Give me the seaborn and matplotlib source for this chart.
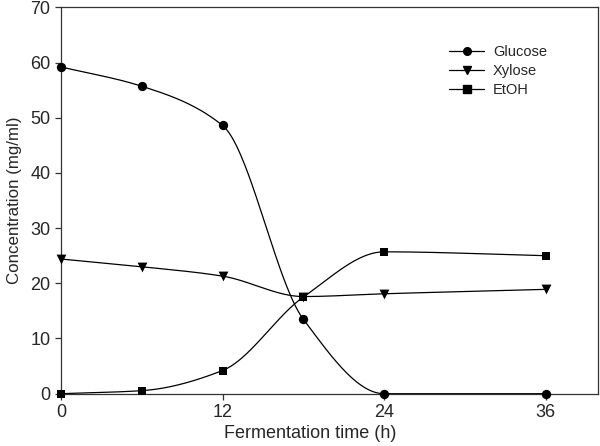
import numpy as np
import pandas as pd
import matplotlib
matplotlib.use("Agg")
import matplotlib.pyplot as plt
from matplotlib.lines import Line2D
import seaborn as sns

time_h = [0, 6, 12, 18, 24, 36]
glucose = [59.2, 55.7, 48.6, 13.5, 0.0, 0.0]
xylose = [24.4, 23.0, 21.3, 17.6, 18.1, 18.9]
etoh = [0.0, 0.55, 4.2, 17.5, 25.7, 25.0]
series_names = ["Glucose", "Xylose", "EtOH"]
x_ticks = [0, 12, 24, 36]
y_ticks = [0, 10, 20, 30, 40, 50, 60, 70]


def pchip(x, y, xs):
    x = np.asarray(x, float); y = np.asarray(y, float)
    h = np.diff(x); d = np.diff(y) / h
    n = len(x); m = np.zeros(n)
    for k in range(1, n - 1):
        if d[k - 1] * d[k] > 0:
            w1 = 2 * h[k] + h[k - 1]; w2 = h[k] + 2 * h[k - 1]
            m[k] = (w1 + w2) / (w1 / d[k - 1] + w2 / d[k])
    m[0] = d[0]; m[-1] = d[-1]
    out = np.empty_like(xs)
    for i, xv in enumerate(xs):
        k = min(np.searchsorted(x, xv, side="right") - 1, n - 2)
        k = max(k, 0)
        t = (xv - x[k]) / h[k]
        h00 = 2*t**3 - 3*t**2 + 1; h10 = t**3 - 2*t**2 + t
        h01 = -2*t**3 + 3*t**2; h11 = t**3 - t**2
        out[i] = h00*y[k] + h10*h[k]*m[k] + h01*y[k+1] + h11*h[k]*m[k+1]
    return out


sns.set_style("ticks")
plt.rcParams["font.family"] = ["Liberation Sans", "DejaVu Sans"]

fig = plt.figure(figsize=(6.0, 4.46), dpi=100)
ax = fig.add_axes([0.1017, 0.1173, 0.895, 0.8663])

xs = np.linspace(0, 36, 400)
markers = ["o", "v", "s"]
msizes = [45, 50, 40]
handles = []
for name, vals, mk, ms in zip(series_names, [glucose, xylose, etoh], markers, msizes):
    curve = pd.DataFrame({"t": xs, "c": pchip(time_h, vals, xs)})
    sns.lineplot(data=curve, x="t", y="c", ax=ax, color="black", lw=0.9, clip_on=True)
    pts = pd.DataFrame({"t": time_h, "c": vals})
    sns.scatterplot(data=pts, x="t", y="c", ax=ax, marker=mk, s=ms, color="black",
                    edgecolor="black", linewidth=0, zorder=5, clip_on=False)
    handles.append(Line2D([0], [0], color="black", lw=0.9, marker=mk,
                          markersize=5.5, label=name))

ax.set_xlim(0, 39.9)
ax.set_ylim(0, 70)
ax.set_xticks(x_ticks)
ax.set_yticks(y_ticks)
ax.tick_params(direction="out", length=4, width=0.9, labelsize=13, color="#333333", pad=3.5)
for sp in ax.spines.values():
    sp.set_linewidth(0.9)
    sp.set_color("#333333")
ax.set_xlabel("Fermentation time (h)", fontsize=13)
ax.set_ylabel("Concentration (mg/ml)", fontsize=12.2)
ax.xaxis.set_label_coords(0.4637, -0.081)
ax.yaxis.set_label_coords(-0.073, 0.5)

ax.legend(handles=handles, loc="upper left", bbox_to_anchor=(0.712, 0.918),
          frameon=False, fontsize=10.5, handlelength=2.4, handletextpad=0.6,
          labelspacing=0.35, borderaxespad=0)

fig.savefig("out.png", dpi=100)
